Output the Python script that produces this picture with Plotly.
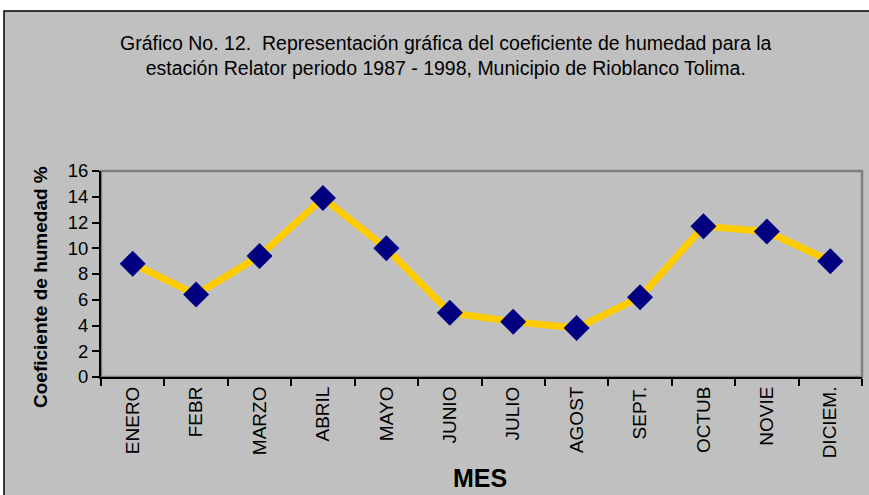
import plotly.graph_objects as go

meses = ["ENERO", "FEBR", "MARZO", "ABRIL", "MAYO", "JUNIO", "JULIO",
         "AGOST", "SEPT.", "OCTUB", "NOVIE", "DICIEM."]
coef_humedad = [8.8, 6.4, 9.4, 13.9, 10.0, 5.0, 4.3, 3.8, 6.2, 11.7, 11.3, 9.0]
y_ticks = [0, 2, 4, 6, 8, 10, 12, 14, 16]

titulo = ("Gráfico No. 12.  Representación gráfica del coeficiente de humedad para la<br>"
          "estación Relator periodo 1987 - 1998, Municipio de Rioblanco Tolima.")

FONT = "Arial, Liberation Sans, sans-serif"
GRAY = "#C0C0C0"

W, H = 869, 495
L, R, T, B = 101, 7, 171, 118
pw, ph = W - L - R, H - T - B

def px(x):
    return (x - L) / pw

def py(y):
    return (H - B - y) / ph

fig = go.Figure()
fig.add_trace(go.Scatter(
    x=meses, y=coef_humedad, mode="lines+markers",
    line=dict(color="#FFCC00", width=7),
    marker=dict(symbol="diamond", size=20, color="#000080",
                line=dict(color="#000080", width=0)),
    showlegend=False,
))

fig.update_layout(
    width=W, height=H,
    margin=dict(l=L, r=R, t=T, b=B),
    paper_bgcolor="white",
    plot_bgcolor=GRAY,
    font=dict(family=FONT, color="black"),
    shapes=[
        dict(type="rect", xref="paper", yref="paper", layer="below",
             x0=px(4), x1=px(875), y0=py(505), y1=py(11),
             fillcolor=GRAY, line=dict(color="black", width=1.5)),
        dict(type="rect", xref="paper", yref="paper", layer="below",
             x0=0, x1=1, y0=0, y1=1,
             fillcolor=GRAY, line=dict(color="#808080", width=2.5)),
    ],
    annotations=[
        dict(text=titulo, xref="paper", yref="paper", x=px(446), y=py(55),
             xanchor="center", yanchor="middle", showarrow=False,
             font=dict(size=19.5, family=FONT, color="black"), align="center"),
        dict(text="<b>Coeficiente de humedad %</b>", xref="paper", yref="paper",
             x=px(40), y=py(287), xanchor="center", yanchor="middle",
             showarrow=False, textangle=-90,
             font=dict(size=19, family=FONT, color="black")),
        dict(text="<b>MES</b>", xref="paper", yref="paper",
             x=px(480), y=py(478), xanchor="center", yanchor="middle",
             showarrow=False, font=dict(size=25, family=FONT, color="black")),
    ],
)

fig.update_xaxes(
    type="category", tickangle=-90, tickson="boundaries",
    ticks="outside", ticklen=7, tickcolor="black", tickwidth=1.5,
    showline=True, linecolor="black", linewidth=2,
    showgrid=False, zeroline=False,
    tickfont=dict(size=19, family=FONT, color="black"),
    range=[-0.5, 11.5],
)
fig.update_yaxes(
    range=[0, 16], tickvals=y_ticks,
    ticks="outside", ticklen=7, tickcolor="black", tickwidth=1.5,
    showline=True, linecolor="black", linewidth=2,
    showgrid=False, zeroline=False,
    tickfont=dict(size=18.5, family=FONT, color="black"),
)

fig.write_html("out.html", config={"displayModeBar": False},
               post_script="document.body.style.margin='0px';")
